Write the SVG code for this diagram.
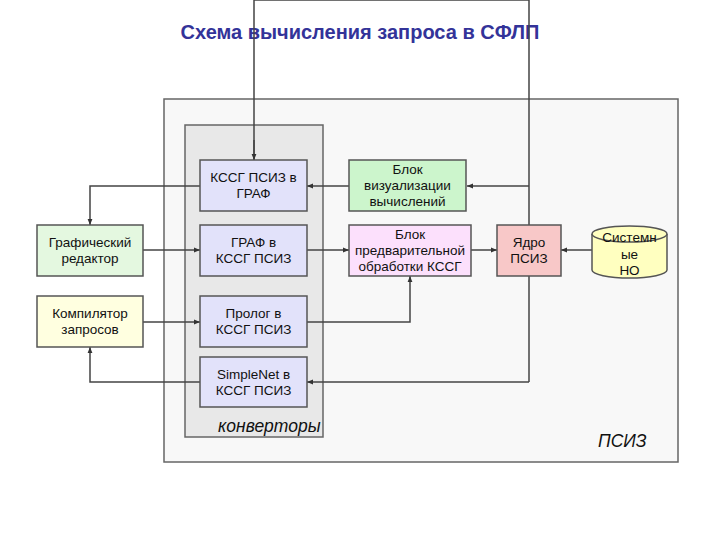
<svg xmlns="http://www.w3.org/2000/svg" width="720" height="540" viewBox="0 0 720 540">
<defs>
<marker id="arr" viewBox="0 0 10 10" refX="10" refY="5" markerWidth="6" markerHeight="6" orient="auto" markerUnits="userSpaceOnUse"><path d="M0,1 L10,5 L0,9 z" fill="#333"/></marker>
<style>
.n{stroke:#555;stroke-width:1.5}
.t{font-family:"Liberation Sans",Arial,sans-serif;font-size:13.5px;fill:#111;text-anchor:middle}
.c{fill:none;stroke:#444;stroke-width:1.5;marker-end:url(#arr)}
.l{fill:none;stroke:#444;stroke-width:1.5}
.lab{font-family:"Liberation Sans",Arial,sans-serif;font-size:17.5px;font-style:italic;fill:#111}
</style>
</defs>
<rect width="720" height="540" fill="#fff"/>
<text x="360" y="39" text-anchor="middle" font-family="'Liberation Sans',Arial,sans-serif" font-size="20" font-weight="bold" fill="#333399">Схема вычисления запроса в СФЛП</text>
<g id="psiz">
<rect x="164" y="99" width="514" height="363" fill="#f8f8f8" stroke="#666" stroke-width="1.5"/>
<text class="lab" x="598" y="447">ПСИЗ</text>
</g>
<g id="converters">
<rect x="185" y="125" width="138" height="312" fill="#e8e8e8" stroke="#666" stroke-width="1.5"/>
<text class="lab" x="218" y="432">конверторы</text>
</g>
<g id="connectors">
<path class="c" d="M529,382 L307,382"/>
<path class="l" d="M254,160 L254,0 L529,0 L529,382"/>
<path class="c" d="M254,140 L254,160"/>
<path class="c" d="M529,186 L467,186"/>
<path class="c" d="M349,186 L307,186"/>
<path class="c" d="M200,186 L90,186 L90,225"/>
<path class="c" d="M143,250 L200,250"/>
<path class="c" d="M307,250 L349,250"/>
<path class="c" d="M471,250 L497,250"/>
<path class="c" d="M592,250 L561,250"/>
<path class="c" d="M143,322 L200,322"/>
<path class="c" d="M307,322 L410,322 L410,276"/>
<path class="c" d="M200,382 L90,382 L90,347"/>
</g>
<g id="n_kssg_graf">
<rect class="n" x="200" y="160" width="107" height="51" fill="#e2e2fa"/>
<text class="t" x="253.5" y="182">КССГ ПСИЗ в</text>
<text class="t" x="253.5" y="198">ГРАФ</text>
</g>
<g id="n_graf_kssg">
<rect class="n" x="200" y="225" width="107" height="51" fill="#e2e2fa"/>
<text class="t" x="253.5" y="247">ГРАФ в</text>
<text class="t" x="253.5" y="263">КССГ ПСИЗ</text>
</g>
<g id="n_prolog">
<rect class="n" x="200" y="296" width="107" height="51" fill="#e2e2fa"/>
<text class="t" x="253.5" y="318">Пролог в</text>
<text class="t" x="253.5" y="334">КССГ ПСИЗ</text>
</g>
<g id="n_simplenet">
<rect class="n" x="200" y="357" width="107" height="50" fill="#e2e2fa"/>
<text class="t" x="253.5" y="379">SimpleNet в</text>
<text class="t" x="253.5" y="395">КССГ ПСИЗ</text>
</g>
<g id="n_editor">
<rect class="n" x="37" y="225" width="106" height="51" fill="#e4f8e0"/>
<text class="t" x="90" y="247">Графический</text>
<text class="t" x="90" y="263">редактор</text>
</g>
<g id="n_compiler">
<rect class="n" x="37" y="296" width="106" height="51" fill="#ffffe0"/>
<text class="t" x="90" y="318">Компилятор</text>
<text class="t" x="90" y="334">запросов</text>
</g>
<g id="n_vis">
<rect class="n" x="349" y="160" width="117" height="51" fill="#ccf5cc"/>
<text class="t" x="407.5" y="174">Блок</text>
<text class="t" x="407.5" y="190">визуализации</text>
<text class="t" x="407.5" y="206">вычислений</text>
</g>
<g id="n_pre">
<rect class="n" x="349" y="225" width="122" height="51" fill="#fce0fc"/>
<text class="t" x="410" y="239">Блок</text>
<text class="t" x="410" y="255">предварительной</text>
<text class="t" x="410" y="271">обработки КССГ</text>
</g>
<g id="n_core">
<rect class="n" x="497" y="225" width="64" height="51" fill="#f8c8c8"/>
<text class="t" x="529" y="247">Ядро</text>
<text class="t" x="529" y="263">ПСИЗ</text>
</g>
<g id="n_sys">
<path class="n" d="M592,234 L592,270 A37.5,8 0 0 0 667,270 L667,234" fill="#ffffc0"/>
<ellipse class="n" cx="629.5" cy="234" rx="37.5" ry="8" fill="#ffffc0"/>
<text class="t" x="629.5" y="242" font-size="14">Системн</text>
<text class="t" x="629.5" y="259" font-size="14">ые</text>
<text class="t" x="629.5" y="275" font-size="14">НО</text>
</g>
</svg>
